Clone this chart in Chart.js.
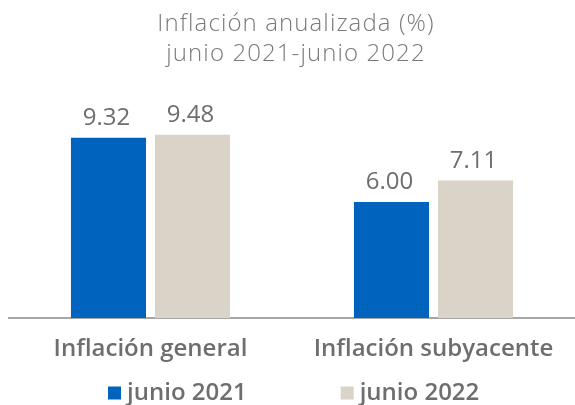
<!DOCTYPE html>
<html><head><meta charset="utf-8">
<script src="https://cdn.jsdelivr.net/npm/chart.js@4/dist/chart.umd.min.js"></script>
<style>html,body{margin:0;padding:0;background:#fff}#wrap{width:575px;height:405px}</style>
</head><body><div id="wrap"><canvas id="c" width="575" height="405"></canvas></div>
<script>
const categories = ['Inflación general', 'Inflación subyacente'];
const seriesNames = ['junio 2021', 'junio 2022'];
const junio2021 = [9.32, 6.00];
const junio2022 = [9.48, 7.11];
const titleLines = ['Inflación anualizada (%)', 'junio 2021-junio 2022'];

const FONT = '"Open Sans", sans-serif';
const TEXT = '#6e6e6e';
const LEG_SIZE = 24;
const LEG_WEIGHT = 600;
const LEG_BOX = 1;          // inner box, widened by its stroke
const LEG_STROKE = 12;
const LEG_FIRST_BOX = 108;  // left edge of first legend swatch
const LEG_SECOND_BOX = 341; // left edge of second legend swatch
const LEG_ROW_Y = 381;
const TITLE_DX = 4;

// legend spacing computed from measured text
const mctx = document.createElement('canvas').getContext('2d');
mctx.font = LEG_WEIGHT + ' ' + LEG_SIZE + 'px ' + FONT;
const legTextW = seriesNames.map(s => mctx.measureText(s).width);
const legItemW = legTextW.map(t => LEG_BOX + LEG_SIZE / 2 + t);
const LEG_PAD = Math.round((LEG_SECOND_BOX - LEG_FIRST_BOX) - legItemW[0]);

const shiftPlugin = {
  id: 'shiftPlugin',
  afterLayout(chart) {
    const t = chart.titleBlock;
    if (t) {
      t.left += TITLE_DX; t.right += TITLE_DX;
      if (!t._spaced) {
        const orig = t.draw.bind(t);
        t.draw = function () {
          const ctx = this.ctx;
          const prev = ctx.letterSpacing;
          ctx.letterSpacing = '1.1px';
          orig();
          ctx.letterSpacing = prev || '0px';
        };
        t._spaced = true;
      }
    }
    const lg = chart.legend;
    if (lg) {
      const total = legItemW[0] + legItemW[1] + 2 * LEG_PAD;
      lg.lineWidths = [total];
      lg.right = 640;
      const x1 = LEG_FIRST_BOX + LEG_STROKE / 2;
      lg.left = 2 * x1 - LEG_PAD - lg.right + total;
      lg.top = LEG_ROW_Y - LEG_PAD;
      lg.bottom = 405;
    }
  }
};

const valueLabels = {
  id: 'valueLabels',
  afterDatasetsDraw(chart) {
    const ctx = chart.ctx;
    ctx.save();
    ctx.font = '500 24px ' + FONT;
    ctx.fillStyle = TEXT;
    ctx.textAlign = 'center';
    ctx.textBaseline = 'alphabetic';
    chart.data.datasets.forEach((ds, i) => {
      chart.getDatasetMeta(i).data.forEach((bar, j) => {
        ctx.fillText(ds.data[j].toFixed(2), bar.x - 2, bar.y - 13);
      });
    });
    ctx.restore();
  }
};

new Chart(document.getElementById('c'), {
  type: 'bar',
  data: {
    labels: categories,
    datasets: [
      { label: seriesNames[0], data: junio2021, backgroundColor: '#0064BF', borderWidth: 0 },
      { label: seriesNames[1], data: junio2022, backgroundColor: '#D9D3C8', borderWidth: 0 }
    ]
  },
  options: {
    responsive: false,
    animation: false,
    devicePixelRatio: 1,
    layout: { padding: { left: 9, right: 0, top: 0, bottom: 0 } },
    datasets: { bar: { categoryPercentage: 0.594, barPercentage: 0.893 } },
    scales: {
      x: {
        grid: { display: false, drawTicks: false },
        border: { display: true, color: '#a6a6a6', width: 2 },
        ticks: { color: TEXT, font: { family: FONT, size: 24, weight: 600 }, padding: 17, maxRotation: 0 },
        afterFit(scale) { scale.height = 47; }
      },
      y: { display: false, min: 0, max: 12 }
    },
    plugins: {
      title: {
        display: true,
        text: titleLines,
        color: '#7a7a7a',
        font: { family: FONT, size: 24, weight: 300, lineHeight: '30px' },
        padding: { top: 9, bottom: 17 }
      },
      legend: {
        position: 'bottom',
        maxHeight: 40,
        labels: {
          color: TEXT,
          font: { family: FONT, size: LEG_SIZE, weight: LEG_WEIGHT },
          boxWidth: LEG_BOX, boxHeight: LEG_BOX,
          padding: LEG_PAD,
          generateLabels(chart) {
            return Chart.defaults.plugins.legend.labels.generateLabels(chart).map(it =>
              Object.assign(it, { lineWidth: LEG_STROKE, strokeStyle: it.fillStyle, lineJoin: 'miter', lineCap: 'butt' }));
          }
        }
      },
      tooltip: { enabled: false }
    }
  },
  plugins: [shiftPlugin, valueLabels]
});
</script></body></html>
